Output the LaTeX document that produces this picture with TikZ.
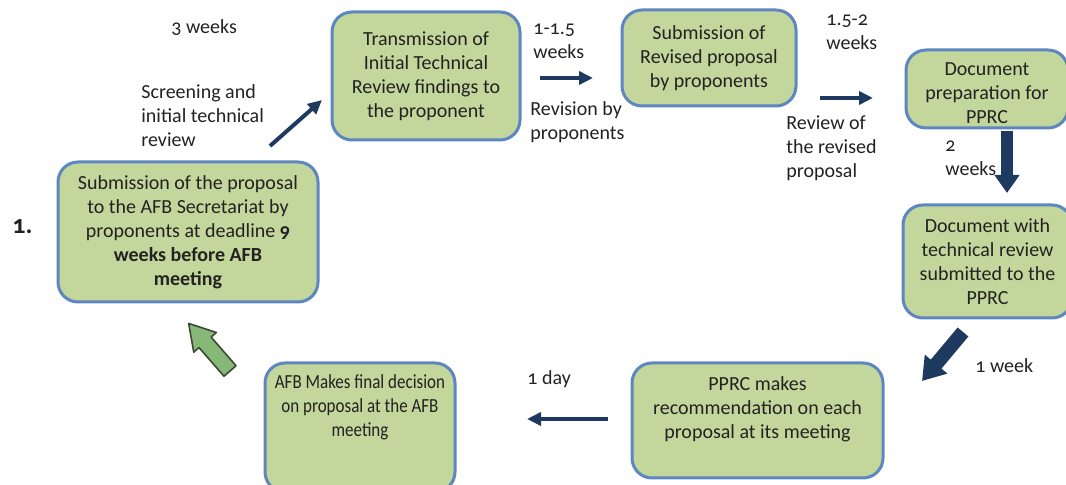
\documentclass[tikz,border=0pt]{standalone}
\usepackage{fontspec}
\setmainfont{Carlito}[Numbers=OldStyle]
\newfontfamily\narrowfont{Carlito}[Numbers=OldStyle,FakeStretch=0.85]
\usetikzlibrary{arrows.meta}
\definecolor{boxgreen}{HTML}{C3D69B}
\definecolor{boxblue}{HTML}{5E86C1}
\definecolor{navy}{HTML}{1F3A60}
\definecolor{leaf}{HTML}{86B877}
\definecolor{leafdark}{HTML}{3C4A34}
\definecolor{ink}{HTML}{222222}
\begin{document}
\begin{tikzpicture}[x=0.5pt,y=-0.5pt,
  stage/.style={draw=boxblue,fill=boxgreen,line width=1.5pt,rounded corners=10pt,align=center,inner sep=0pt,text=ink,font=\fontsize{10}{12}\selectfont},
  note/.style={align=left,anchor=west,inner sep=0pt,text=ink,font=\fontsize{10}{12}\selectfont},
  flowarrow/.style={navy,line width=2pt,-{Triangle[length=7pt,width=6.5pt]}},
  bigarrow/.style={navy,line width=6pt,-{Triangle[length=9pt,width=12pt]}}]
\useasboundingbox (0,0) rectangle (1066,485);

% the stages, clockwise from the left
\node[stage,minimum width=130pt,minimum height=70pt] (submit) at (188,232)
  {Submission of the proposal\\to the AFB Secretariat by\\proponents at deadline \textbf{9}\\\textbf{weeks before AFB}\\\textbf{meeting}};
\node[stage,minimum width=94pt,minimum height=64pt] (trans) at (426,76)
  {Transmission of\\Initial Technical\\Review findings to\\the proponent};
\node[stage,minimum width=87pt,minimum height=48pt] (revised) at (709,58)
  {Submission of\\Revised proposal\\by proponents};
\node[stage,minimum width=81pt,minimum height=39pt,text height=35pt] (docprep) at (987,89)
  {Document\\preparation for\\PPRC};
\node[stage,minimum width=84.5pt,minimum height=56.5pt] (docrev) at (987.5,261.5)
  {Document with\\technical review\\submitted to the\\PPRC};
\node[stage,minimum width=125.5pt,minimum height=57.5pt,text depth=12.5pt] (pprc) at (757.5,420.5)
  {PPRC makes\\recommendation on each\\proposal at its meeting};
\node[stage,minimum width=95pt,minimum height=64.5pt,text depth=22pt,font=\fontsize{10}{12}\narrowfont] (afb) at (360,427.5)
  {AFB Makes final decision\\on proposal at the AFB\\meeting};

% arrow ends
\coordinate (s1) at (270,146); \coordinate (s2) at (322,100);
\coordinate (r1) at (540,78);  \coordinate (r2) at (593,78);
\coordinate (v1) at (820,98);  \coordinate (v2) at (873,98);
\coordinate (d1) at (1007,131); \coordinate (d2) at (1007,193);
\coordinate (w1) at (963,332); \coordinate (w2) at (922,381);
\coordinate (m1) at (608,419); \coordinate (m2) at (527,419);
\coordinate (gtail) at (230,371);

\draw[flowarrow] (s1) -- (s2);
\draw[flowarrow] (r1) -- (r2);
\draw[flowarrow] (v1) -- (v2);
\draw[bigarrow] (d1) -- (d2);
\draw[bigarrow,line width=7pt,-{Triangle[length=11pt,width=14pt]}] (w1) -- (w2);
\draw[flowarrow] (m1) -- (m2);
\begin{scope}[shift={(gtail)},rotate=131]
\draw[leafdark,fill=leaf,line width=0.8pt,line join=round] (0,-8) -- (38,-8) -- (38,-15) -- (63,0) -- (38,15) -- (38,8) -- (0,8) -- cycle;
\end{scope}

% time and step labels
\node[note] (t3w) at (171,28) {3 weeks};
\node[note] (screen) at (141,116) {Screening and\\initial technical\\review};
\node[note] (t1w) at (533,41) {1-1.5\\weeks};
\node[note] (revby) at (530,122) {Revision by\\proponents};
\node[note] (t2w) at (826,32) {1.5-2\\weeks};
\node[note] (revof) at (786,148) {Review of\\the revised\\proposal};
\node[note] (t2) at (945,158) {2\\weeks};
\node[note] (t1wk) at (975,366) {1 week};
\node[note] (t1d) at (527,379) {1 day};
\node[note,font=\fontsize{13}{15}\selectfont\bfseries] (one) at (12,227) {1.};
\end{tikzpicture}
\end{document}
